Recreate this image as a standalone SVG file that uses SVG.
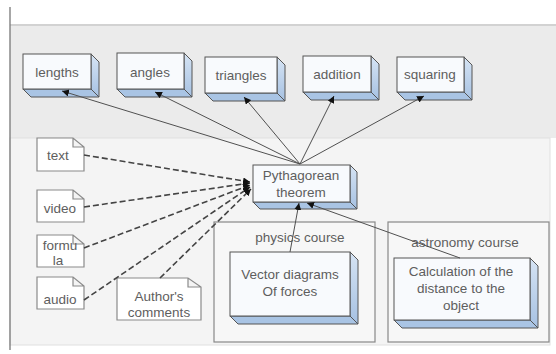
<svg xmlns="http://www.w3.org/2000/svg" width="556" height="354" viewBox="0 0 556 354">
<style>
text{font-family:"Liberation Sans",Arial,sans-serif;font-size:13.5px;fill:#5e5e5e;text-anchor:middle}
.front{fill:#f8fafd;stroke:#555;stroke-width:1}
.side{fill:url(#sg);stroke:#555;stroke-width:1}
.bot{fill:#a9c4e4;stroke:#555;stroke-width:1}
.doc{fill:#fff;stroke:#8a8a8a;stroke-width:1.2}
.cont{fill:#f7f7f7;stroke:#888;stroke-width:1.2}
.ln{stroke:#505050;stroke-width:1;fill:none}
.dl{stroke:#444;stroke-width:1.6;fill:none;stroke-dasharray:6 3}
</style>
<defs>
<linearGradient id="sg" x1="0" y1="0" x2="0" y2="1"><stop offset="0" stop-color="#d6e4f4"/><stop offset="1" stop-color="#a6c1e2"/></linearGradient>
<marker id="ah" viewBox="0 0 10 10" refX="10" refY="5" markerWidth="7" markerHeight="7" orient="auto-start-reverse" markerUnits="userSpaceOnUse"><path d="M0,0 L10,5 L0,10 z" fill="#111"/></marker>
</defs>
<rect x="0" y="0" width="556" height="354" fill="#fff"/>
<rect x="10" y="25" width="546" height="113" fill="#ebebeb"/>
<rect x="10" y="138" width="540" height="207" fill="#f4f4f4" stroke="#e0e0e0"/>
<line x1="10" y1="25" x2="556" y2="25" stroke="#d2d2d2" stroke-width="2"/>
<line x1="10" y1="7" x2="10" y2="350" stroke="#777" stroke-width="1.3"/>

<g id="physics-course"><rect class="cont" x="214" y="222" width="161" height="120"/><text x="300" y="242">physics course</text></g>
<g id="astronomy-course"><rect class="cont" x="388" y="222" width="161" height="120"/><text x="465" y="247">astronomy course</text></g>

<g id="lengths"><polygon class="side" points="91,54 99,62 99,97 91,89"/><polygon class="bot" points="23,89 91,89 99,97 31,97"/><rect class="front" x="23" y="54" width="68" height="35"/><text x="57" y="77">lengths</text></g>
<g id="angles"><polygon class="side" points="184,53 192,61 192,97 184,89"/><polygon class="bot" points="117,89 184,89 192,97 125,97"/><rect class="front" x="117" y="53" width="67" height="36"/><text x="150" y="77">angles</text></g>
<g id="triangles"><polygon class="side" points="277,57 285,65 285,101 277,93"/><polygon class="bot" points="205,93 277,93 285,101 213,101"/><rect class="front" x="205" y="57" width="72" height="36"/><text x="241" y="80">triangles</text></g>
<g id="addition"><polygon class="side" points="371,56 379,64 379,100 371,92"/><polygon class="bot" points="303,92 371,92 379,100 311,100"/><rect class="front" x="303" y="56" width="68" height="36"/><text x="337" y="79">addition</text></g>
<g id="squaring"><polygon class="side" points="464,57 472,65 472,100 464,92"/><polygon class="bot" points="397,92 464,92 472,100 405,100"/><rect class="front" x="397" y="57" width="67" height="35"/><text x="430" y="79">squaring</text></g>

<g id="pythagorean-theorem"><polygon class="side" points="350,165 357,172 357,209 350,202"/><polygon class="bot" points="253,202 350,202 357,209 260,209"/><rect class="front" x="253" y="165" width="97" height="37"/><text x="301" y="180">Pythagorean</text><text x="301" y="197">theorem</text></g>

<g id="vector-diagrams"><polygon class="side" points="350,252 358,260 358,324 350,316"/><polygon class="bot" points="230,316 350,316 358,324 238,324"/><rect class="front" x="230" y="252" width="120" height="64"/><text x="290" y="279">Vector diagrams</text><text x="290" y="296">Of forces</text></g>
<g id="calculation"><polygon class="side" points="530,258 538,266 538,328 530,320"/><polygon class="bot" points="394,320 530,320 538,328 402,328"/><rect class="front" x="394" y="258" width="136" height="62"/><text x="461" y="276">Calculation of the</text><text x="461" y="293">distance to the</text><text x="461" y="310">object</text></g>

<g id="text-doc"><path class="doc" d="M37,138 H73 L84,147 V171 H37 Z M73,138 V147 H84"/><text x="58" y="160">text</text></g>
<g id="video-doc"><path class="doc" d="M37,190 H73 L84,199 V222 H37 Z M73,190 V199 H84"/><text x="60" y="213">video</text></g>
<g id="formula-doc"><path class="doc" d="M37,235 H73 L84,244 V267 H37 Z M73,235 V244 H84"/><text x="60" y="250">formu</text><text x="58" y="265">la</text></g>
<g id="audio-doc"><path class="doc" d="M37,277 H73 L84,286 V309 H37 Z M73,277 V286 H84"/><text x="60" y="304">audio</text></g>
<g id="authors-comments"><path class="doc" d="M117,278 H188 L201,287 V320 H117 Z M188,278 V287 H201"/><text x="159" y="301">Author's</text><text x="159" y="317">comments</text></g>

<g id="connectors">
<line class="ln" x1="300" y1="164" x2="62" y2="91" marker-end="url(#ah)"/>
<line class="ln" x1="300" y1="164" x2="155" y2="92" marker-end="url(#ah)"/>
<line class="ln" x1="300" y1="164" x2="244" y2="97" marker-end="url(#ah)"/>
<line class="ln" x1="300" y1="164" x2="334" y2="96" marker-end="url(#ah)"/>
<line class="ln" x1="300" y1="164" x2="424" y2="96" marker-end="url(#ah)"/>
<line class="ln" x1="290" y1="252" x2="299" y2="203" marker-end="url(#ah)"/>
<line class="ln" x1="460" y1="258" x2="307" y2="203" marker-end="url(#ah)"/>
<line class="dl" x1="84" y1="155" x2="250" y2="182" marker-end="url(#ah)"/>
<line class="dl" x1="84" y1="207" x2="250" y2="183" marker-end="url(#ah)"/>
<line class="dl" x1="84" y1="248" x2="250" y2="185" marker-end="url(#ah)"/>
<line class="dl" x1="84" y1="300" x2="250" y2="187" marker-end="url(#ah)"/>
<line class="dl" x1="160" y1="278" x2="251" y2="189" marker-end="url(#ah)"/>
</g>
</svg>
